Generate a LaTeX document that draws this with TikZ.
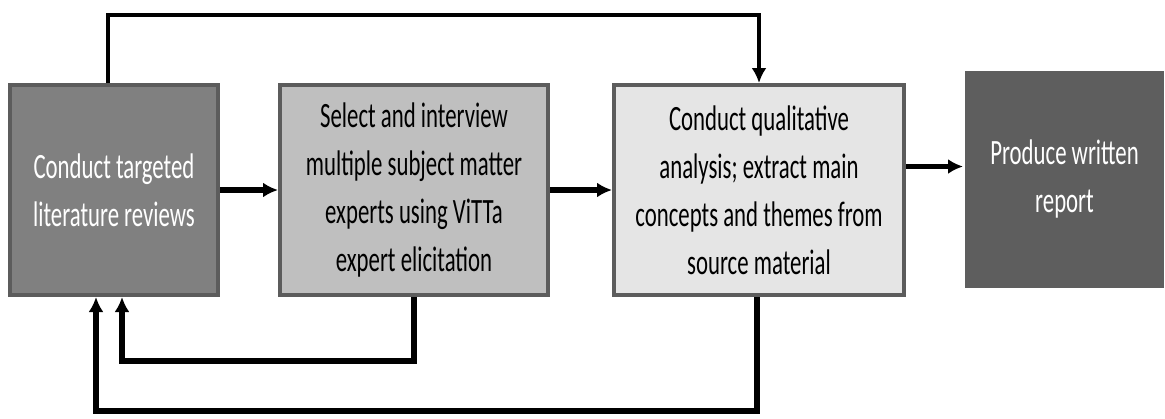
\documentclass[tikz,border=0pt]{standalone}
\usepackage{fontspec}
\setsansfont{Carlito}[FakeStretch=0.64]
\usepackage{tikz}
\usetikzlibrary{arrows.meta, positioning}
\usepackage{xcolor}
\definecolor{boxa}{gray}{0.50}
\definecolor{boxb}{gray}{0.75}
\definecolor{boxc}{gray}{0.90}
\definecolor{boxd}{gray}{0.37}
\definecolor{rim}{gray}{0.36}

\tikzset{
  stage/.style={draw=rim, line width=2pt, align=center,
    font=\sffamily\fontsize{17.8}{24}\selectfont},
  flow/.style={->, line width=2.6pt, >={Latex[length=7.5pt,width=7.5pt]}}
}

\begin{document}
\begin{tikzpicture}
    \useasboundingbox (0,0) rectangle (582.5pt,-209pt);
    % Add the boxes
        \node[stage,
              fill=boxa,
              text=white,
              minimum width=104pt,
              minimum height=105pt
              ] (lit) at (57pt,-95pt) {Conduct targeted\\literature reviews};
		\node[stage,
			right=29pt of lit,
			fill=boxb,
			text=black,
			minimum width=134pt,
			minimum height=105pt
			] (sme) {Select and interview\\multiple subject matter\\experts using ViTTa\\expert elicitation};
		\node[stage,
			right=31pt of sme,
			fill=boxc,
			text=black,
			minimum width=145pt,
			minimum height=105pt
			] (qual) {Conduct qualitative\\analysis; extract main\\concepts and themes from\\source material};
		\node[stage,
			draw=none,
			right=28.5pt of qual,
			yshift=5.5pt,
			fill=boxd,
			text=white,
			minimum width=99.5pt,
			minimum height=108.5pt
			] (rep) {Produce written\\report};

       % forward arrows
       \draw[flow] (lit) -- (sme);
       \draw[flow] (sme) -- (qual);
       \draw[flow] ([yshift=11.75pt]qual.east) -- ([yshift=11.75pt]qual.east -| rep.west);
       % feedback loops
       \draw[flow, line width=2pt] ([xshift=-3pt]lit.north) -- ++(0,34pt) -| (qual.north);
       \draw[flow] (sme.south) -- ++(0,-32pt) -| ([xshift=4pt]lit.south);
       \draw[flow] ([xshift=-1pt]qual.south) -- ++(0,-57pt) -| ([xshift=-9pt]lit.south);
    \end{tikzpicture}
\end{document}
